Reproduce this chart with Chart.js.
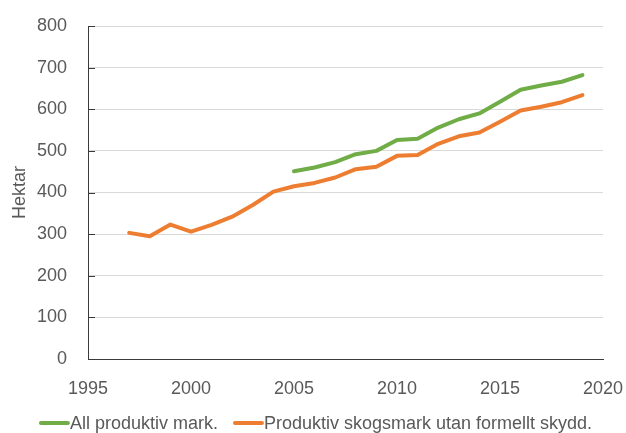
<!DOCTYPE html>
<html>
<head>
<meta charset="utf-8">
<script src="https://cdn.jsdelivr.net/npm/chart.js@4/dist/chart.umd.min.js"></script>
<style>
  html, body { margin: 0; padding: 0; background: #ffffff; }
  #wrap { width: 626px; height: 433px; position: relative; }
</style>
</head>
<body>
<div id="wrap"><canvas id="c" width="626" height="433"></canvas></div>
<script>
// ---- Data ----
const years = [1997, 1998, 1999, 2000, 2001, 2002, 2003, 2004, 2005, 2006, 2007, 2008,
               2009, 2010, 2011, 2012, 2013, 2014, 2015, 2016, 2017, 2018, 2019];
const allProduktiv = [null, null, null, null, null, null, null, null,
                      451, 460, 473, 492, 500, 526, 529, 556, 576, 590, 618, 647, 657, 666, 682];
const utanSkydd = [303, 295, 323, 306, 322, 342, 370, 402, 415, 423, 436, 456,
                   462, 488, 490, 517, 535, 544, 570, 597, 606, 617, 634];
const seriesLabels = ['All produktiv mark.', 'Produktiv skogsmark utan formellt skydd.'];
const yTicks = [0, 100, 200, 300, 400, 500, 600, 700, 800];
const xTicks = [1995, 2000, 2005, 2010, 2015, 2020];
const yTitle = 'Hektar';

const FONT = "'Liberation Sans', Arial, sans-serif";
const FS = 18;
const TEXT = '#595959';
const AXIS = '#3a3a3a';
const GREEN = '#70AD47';
const ORANGE = '#ED7D31';

Chart.defaults.font.family = FONT;
Chart.defaults.font.size = FS;
Chart.defaults.color = TEXT;

const toPts = (vals) => years.map((y, i) => ({ x: y, y: vals[i] }));

const innerTicks = {
  id: 'innerTicks',
  afterDatasetsDraw(chart) {
    const ctx = chart.ctx;
    const ys = chart.scales.y;
    const left = chart.chartArea.left;
    ctx.save();
    ctx.strokeStyle = AXIS;
    ctx.lineWidth = 1;
    ys.ticks.forEach(t => {
      const py = Math.round(ys.getPixelForValue(t.value)) + 0.5;
      ctx.beginPath();
      ctx.moveTo(left, py);
      ctx.lineTo(left + 7, py);
      ctx.stroke();
    });
    ctx.restore();
  }
};

const lineLegend = {
  id: 'lineLegend',
  afterDraw(chart) {
    const ctx = chart.ctx;
    ctx.save();
    ctx.font = FS + 'px ' + FONT;
    const lineW = 29, gapAfterLine = 1, itemGap = 16;
    const items = chart.data.datasets.map(ds => ({
      label: ds.label, color: ds.borderColor,
      tw: ctx.measureText(ds.label).width
    }));
    let total = 0;
    items.forEach((it, i) => { total += lineW + gapAfterLine + it.tw + (i ? itemGap : 0); });
    let x = chart.width / 2 + 3 - total / 2;
    const y = 424;
    items.forEach((it, i) => {
      if (i) x += itemGap;
      ctx.strokeStyle = it.color;
      ctx.lineWidth = 4;
      ctx.lineCap = 'round';
      ctx.beginPath();
      ctx.moveTo(x + 1, y - 1);
      ctx.lineTo(x + lineW - 1, y - 1);
      ctx.stroke();
      x += lineW + gapAfterLine;
      ctx.fillStyle = TEXT;
      ctx.textBaseline = 'middle';
      ctx.textAlign = 'left';
      ctx.fillText(it.label, x, y);
      x += it.tw;
    });
    ctx.restore();
  }
};

new Chart(document.getElementById('c'), {
  type: 'line',
  data: {
    datasets: [
      {
        label: seriesLabels[0],
        data: toPts(allProduktiv),
        borderColor: GREEN,
        backgroundColor: GREEN,
        borderWidth: 4,
        pointRadius: 0,
        tension: 0,
        borderJoinStyle: 'round',
        borderCapStyle: 'round',
        spanGaps: false
      },
      {
        label: seriesLabels[1],
        data: toPts(utanSkydd),
        borderColor: ORANGE,
        backgroundColor: ORANGE,
        borderWidth: 4,
        pointRadius: 0,
        tension: 0,
        borderJoinStyle: 'round',
        borderCapStyle: 'round'
      }
    ]
  },
  options: {
    responsive: false,
    animation: false,
    devicePixelRatio: 1,
    layout: { padding: { left: 0, right: 23, top: 26, bottom: 32 } },
    plugins: {
      legend: { display: false },
      tooltip: { enabled: false }
    },
    scales: {
      x: {
        type: 'linear',
        min: xTicks[0],
        max: xTicks[xTicks.length - 1],
        afterBuildTicks: (s) => { s.ticks = xTicks.map(v => ({ value: v })); },
        grid: { display: false, drawTicks: false },
        border: { display: true, color: AXIS, width: 1 },
        ticks: {
          padding: 19,
          color: TEXT,
          font: { size: FS },
          maxRotation: 0,
          autoSkip: false,
          callback: (v) => String(v)
        },
        afterFit: (s) => { s.height = 42; s.paddingLeft = 0; s.paddingRight = 0; }
      },
      y: {
        min: 0,
        max: 800,
        afterBuildTicks: (s) => { s.ticks = yTicks.map(v => ({ value: v })); },
        grid: { color: '#d9d9d9', lineWidth: 1, drawTicks: false },
        border: { display: true, color: AXIS, width: 1 },
        ticks: {
          padding: 21,
          color: TEXT,
          font: { size: FS },
          callback: (v) => String(v)
        },
        title: {
          display: true,
          text: yTitle,
          color: TEXT,
          font: { size: FS },
          padding: { top: 9, bottom: 0 }
        },
        afterFit: (s) => { s.width = 88; s.paddingTop = 0; s.paddingBottom = 0; }
      }
    }
  },
  plugins: [innerTicks, lineLegend]
});
</script>
</body>
</html>
